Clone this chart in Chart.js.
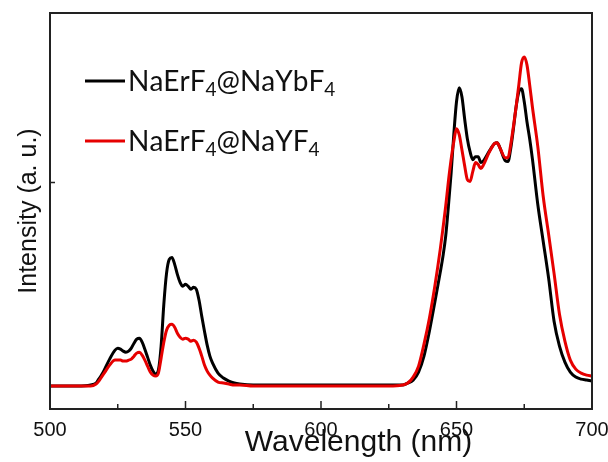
<html>
<head>
<script src="https://cdn.jsdelivr.net/npm/chart.js"></script>
</head>
<body style="margin:0; background:#fff">
<div style="width:608px; height:462px">
  <canvas id="myChart" width="608" height="462"></canvas>
</div>
<script>
// wavelength grid (nm) and intensities (a.u., baseline = 0)
var wavelength = [500, 510, 515, 517, 518, 519, 520, 522, 524, 525, 526, 527, 528, 529, 530, 531, 532, 533, 534, 535,
  536, 537, 538, 539, 540, 541, 542, 543, 544, 545, 546, 547, 548, 549, 550, 551, 552, 553, 554, 555,
  556, 557, 558, 559, 560, 562, 564, 566, 568, 570, 575, 590, 610, 625, 630, 632, 634, 636, 638, 640,
  642, 644, 645, 646, 647, 648, 649, 650, 651, 652, 653, 654, 655, 656, 657, 658, 659, 660, 662, 664,
  665, 666, 668, 669, 670, 671, 672, 673, 674, 675, 676, 677, 678, 680, 682, 684, 686, 688, 690, 692,
  694, 696, 698, 700];
var ybShell = [0, 0, 1, 3, 7, 11, 16, 27, 36, 38, 37, 35, 34, 35, 38, 43, 47, 48, 44, 37,
  29, 21, 15, 12, 16, 40, 82, 113, 127, 129, 122, 112, 104, 100, 102, 100, 97, 99, 97, 86,
  70, 55, 41, 30, 23, 13, 8, 5, 3, 2, 1, 1, 1, 1, 1, 3, 6, 14, 30, 55,
  84, 114, 130, 150, 180, 213, 252, 285, 299, 290, 268, 248, 235, 227, 230, 230, 224, 226, 235, 243,
  244, 239, 226, 225, 238, 258, 280, 295, 298, 285, 265, 248, 228, 182, 145, 108, 65, 40, 24, 14,
  9, 7, 6, 5];
var yShell = [0, 0, 0, 2, 5, 9, 13, 21, 26, 26, 26, 25, 25, 26, 27, 30, 33, 34, 31, 26,
  20, 14, 11, 10, 13, 28, 44, 56, 61, 62, 59, 53, 49, 47, 48, 47, 45, 46, 44, 38,
  30, 21, 15, 11, 8, 4, 3, 2, 1, 1, 0, 0, 0, 0, 1, 3, 9, 20, 42, 68,
  100, 137, 158, 180, 205, 227, 245, 258, 252, 237, 221, 207, 205, 215, 224, 222, 218, 222, 234, 243,
  244, 239, 229, 229, 242, 260, 280, 302, 324, 330, 322, 302, 280, 240, 190, 152, 113, 72, 45, 26,
  17, 13, 11, 10];
var seriesNames = ['NaErF\u2084@NaYbF\u2084', 'NaErF\u2084@NaYF\u2084'];
var seriesColors = ['#000000', '#e60000'];
var xTicks = [500, 550, 600, 650, 700];
var xMinorTicks = [525, 575, 625, 675];
var yTicks = [204];

function toPoints(ys) {
  return wavelength.map(function (w, i) { return { x: w, y: ys[i] }; });
}

// box round the plot and inward ticks
var framePlugin = {
  id: 'frame',
  afterDatasetsDraw: function (chart) {
    var ctx = chart.ctx, a = chart.chartArea, x = chart.scales.x, y = chart.scales.y;
    ctx.save();
    ctx.strokeStyle = '#222';
    ctx.lineWidth = 2;
    ctx.strokeRect(a.left, a.top, a.right - a.left, a.bottom - a.top);
    ctx.lineWidth = 1.5;
    ctx.beginPath();
    xTicks.forEach(function (v) {
      var px = x.getPixelForValue(v);
      ctx.moveTo(px, a.bottom); ctx.lineTo(px, a.bottom - 8);
    });
    xMinorTicks.forEach(function (v) {
      var px = x.getPixelForValue(v);
      ctx.moveTo(px, a.bottom); ctx.lineTo(px, a.bottom - 5);
    });
    yTicks.forEach(function (v) {
      var py = y.getPixelForValue(v);
      ctx.moveTo(a.left, py); ctx.lineTo(a.left + 5, py);
    });
    ctx.stroke();
    ctx.restore();
  }
};

// legend inside the plot, with real subscripts
var legendPlugin = {
  id: 'innerLegend',
  afterDraw: function (chart) {
    var ctx = chart.ctx, a = chart.chartArea;
    var big = '28px Lato', small = '19px Lato';
    ctx.save();
    chart.data.datasets.forEach(function (ds, i) {
      var ly = a.top + 68 + i * 60;
      ctx.strokeStyle = ds.borderColor;
      ctx.lineWidth = 3;
      ctx.beginPath();
      ctx.moveTo(a.left + 35, ly); ctx.lineTo(a.left + 75, ly);
      ctx.stroke();
      ctx.fillStyle = '#111';
      ctx.textBaseline = 'alphabetic';
      var tx = a.left + 78;
      Array.from(ds.label).forEach(function (ch) {
        var code = ch.charCodeAt(0);
        if (code >= 0x2080 && code <= 0x2089) {
          ctx.font = small;
          var d = String(code - 0x2080);
          ctx.fillText(d, tx, ly + 10 + 5);
          tx += ctx.measureText(d).width;
        } else {
          ctx.font = big;
          ctx.fillText(ch, tx, ly + 10);
          tx += ctx.measureText(ch).width;
        }
      });
    });
    ctx.restore();
  }
};

var dataObj = {
  type: 'line',
  data: {
    datasets: [
      { label: seriesNames[0], data: toPoints(ybShell), borderColor: seriesColors[0], order: 1 },
      { label: seriesNames[1], data: toPoints(yShell), borderColor: seriesColors[1], order: 0 }
    ]
  },
  options: {
    responsive: false,
    animation: false,
    layout: { padding: { top: 13, right: 16, left: 0, bottom: 0 } },
    elements: {
      point: { radius: 0 },
      line: { borderWidth: 3, tension: 0.4, cubicInterpolationMode: 'monotone', fill: false }
    },
    plugins: { legend: { display: false }, tooltip: { enabled: false } },
    scales: {
      x: {
        type: 'linear',
        min: 500,
        max: 700,
        grid: { display: false },
        border: { display: false },
        afterBuildTicks: function (s) { s.ticks = xTicks.map(function (v) { return { value: v }; }); },
        afterFit: function (s) { s.height = 53; s.paddingLeft = 0; s.paddingRight = 0; },
        ticks: { padding: 1, color: '#111', font: { family: 'Liberation Sans', size: 20 } },
        title: {
          display: true,
          text: '\u00a0'.repeat(9) + 'Wavelength (nm)',
          color: '#111',
          padding: { top: 0, bottom: 1 },
          font: { family: 'Liberation Sans', size: 30 }
        }
      },
      y: {
        type: 'linear',
        min: -23,
        max: 374,
        grid: { display: false },
        border: { display: false },
        afterBuildTicks: function (s) { s.ticks = yTicks.map(function (v) { return { value: v }; }); },
        afterFit: function (s) { s.width = 50; },
        ticks: { display: false },
        title: {
          display: true,
          text: 'Intensity (a. u.)',
          color: '#111',
          padding: { top: 14, bottom: 0 },
          font: { family: 'Liberation Sans', size: 25 }
        }
      }
    }
  },
  plugins: [framePlugin, legendPlugin]
};

const ctx = document.getElementById('myChart').getContext('2d');
window.myLine = new Chart(ctx, dataObj);
</script>
</body>
</html>
